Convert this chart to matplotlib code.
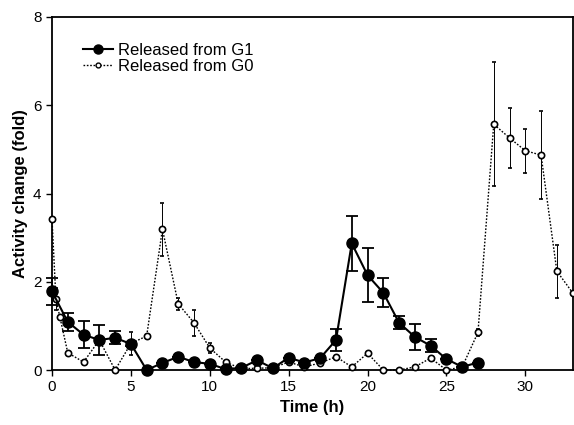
import numpy as np
import matplotlib
matplotlib.use("Agg")
import matplotlib.pyplot as plt
from matplotlib.lines import Line2D

plt.rcParams['font.family'] = ['Liberation Sans', 'DejaVu Sans']

# Released from G1 (filled circles, solid)
t_g1 = [0, 1, 2, 3, 4, 5, 6, 7, 8, 9, 10, 11, 12, 13, 14, 15, 16, 17,
        18, 19, 20, 21, 22, 23, 24, 25, 26, 27]
v_g1 = [1.78, 1.09, 0.8, 0.68, 0.73, 0.59, 0.0, 0.16, 0.3, 0.18, 0.14, 0.02,
        0.05, 0.22, 0.04, 0.28, 0.17, 0.27, 0.68, 2.87, 2.15, 1.75, 1.07,
        0.75, 0.55, 0.25, 0.07, 0.17]
e_g1 = [0.3, 0.2, 0.3, 0.33, 0.15, 0.05, 0, 0, 0, 0, 0, 0, 0, 0, 0, 0, 0, 0,
        0.25, 0.62, 0.61, 0.33, 0.15, 0.3, 0.15, 0, 0, 0]

# Released from G0 (open circles, dotted)
t_g0 = [0, 0.25, 0.5, 1, 2, 3, 4, 5, 6, 7, 8, 9, 10, 11, 12, 13, 14, 15, 16,
        17, 18, 19, 20, 21, 22, 23, 24, 25, 26, 27, 28, 29, 30, 31, 32, 33]
v_g0 = [3.42, 1.6, 1.2, 0.39, 0.18, 0.68, 0.0, 0.6, 0.77, 3.19, 1.5, 1.07,
        0.5, 0.18, 0.03, 0.04, 0.05, 0.18, 0.07, 0.16, 0.3, 0.07, 0.38, 0.0,
        0.0, 0.07, 0.27, 0.0, 0.07, 0.85, 5.57, 5.26, 4.97, 4.87, 2.24, 1.75]
e_g0 = [0, 0.25, 0, 0, 0, 0, 0, 0.25, 0, 0.6, 0.13, 0.3, 0.12, 0, 0, 0, 0,
        0, 0, 0, 0, 0, 0, 0, 0, 0, 0, 0, 0, 0.07, 1.4, 0.68, 0.5, 1.0, 0.6, 0]

fig = plt.figure(figsize=(5.74, 4.25), dpi=100)
ax = fig.add_axes([0.0906, 0.1294, 0.907, 0.8306])

ax.errorbar(t_g0, v_g0, yerr=e_g0, fmt='o', ls=(0, (1.2, 1.2)), color='black',
            lw=1.0, ms=4.5, mfc='white', mec='black', mew=1.2,
            elinewidth=0.7, capsize=1.5, capthick=0.7, zorder=2, clip_on=False)
ax.errorbar(t_g1, v_g1, yerr=e_g1, fmt='o-', color='black', lw=1.5, ms=8,
            mfc='black', mec='black', elinewidth=1.3, capsize=4, capthick=1.3,
            zorder=3, clip_on=False)

ax.set_xlim(0, 33)
ax.set_ylim(0, 8)
ax.set_xticks([0, 5, 10, 15, 20, 25, 30])
ax.set_yticks([0, 2, 4, 6, 8])
ax.tick_params(direction='out', length=4, width=1, labelsize=11)
for s in ax.spines.values():
    s.set_linewidth(1.3)
    s.set_zorder(1)

ax.set_xlabel('Time (h)', fontsize=12, fontweight='bold')
ax.set_ylabel('Activity change (fold)', fontsize=12, fontweight='bold')

handles = [
    Line2D([], [], color='black', lw=1.5, marker='o', ms=6.5, mfc='black'),
    Line2D([], [], color='black', lw=1.0, ls=(0, (1.2, 1.2)), marker='o',
           ms=3.5, mfc='white', mew=1.0),
]
ax.legend(handles, ['Released from G1', 'Released from G0'], loc='upper left',
          bbox_to_anchor=(0.03, 0.97), frameon=False, fontsize=12,
          handlelength=1.8, handletextpad=0.3, labelspacing=0.1)

fig.savefig('out.png', dpi=100)
